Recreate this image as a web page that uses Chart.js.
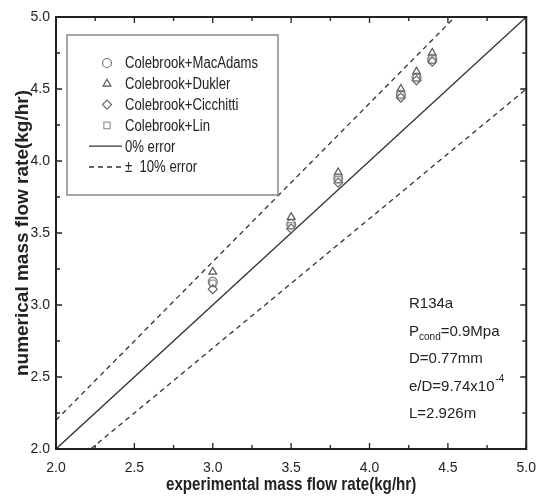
<!DOCTYPE html>
<html>
<head>
<meta charset="utf-8">
<script src="https://cdn.jsdelivr.net/npm/chart.js@4.4.0/dist/chart.umd.min.js"></script>
<style>
html,body{margin:0;padding:0;background:#fff}
</style>
</head>
<body>
<canvas id="chart" width="547" height="497"></canvas>
<script>

/* ---------------- DATA ---------------- */

const expFlow = [3.0,3.5,3.8,4.2,4.3,4.4]
const macAdams = [3.16,3.56,3.88,4.46,4.58,4.71]
const dukler = [3.23,3.61,3.92,4.50,4.62,4.75]
const cicchitti = [3.11,3.53,3.85,4.44,4.56,4.69]
const lin = [3.15,3.55,3.87,4.46,4.58,4.70]

const zeroX = [2,5]
const zeroY = [2,5]
const plusX = [2,4.545]
const plusY = [2.2,5]
const minusX = [2.222,5]
const minusY = [2,4.5]

const axisTicks = [2.0,2.5,3.0,3.5,4.0,4.5,5.0]

const xTitle = "experimental mass flow rate(kg/hr)"
const yTitle = "numerical mass flow rate(kg/hr)"
const noteLines = ["R134a","P|cond|=0.9Mpa","D=0.77mm","e/D=9.74x10^-4","L=2.926m"]

const FONT = "'Liberation Sans', Arial, sans-serif"
const INK = "#222"
const SQUEEZE = 0.82   // the source figure uses a condensed face

const pts = (xs,ys) => xs.map((x,i) => ({x:x,y:ys[i]}))

function markerSet(label,ys,style,color){
return {
label:label,
data:pts(expFlow,ys),
pointStyle:style,
pointRadius:4.5,
pointBorderWidth:1.2,
borderColor:color,
backgroundColor:"rgba(0,0,0,0)",
showLine:false
}
}

function lineSet(label,xs,ys,dash){
return {
label:label,
data:pts(xs,ys),
showLine:true,
pointRadius:0,
borderColor:"#333",
borderWidth:1.3,
borderDash:dash,
legendDash:dash
}
}

function narrowText(ctx,text,x,y){
ctx.save()
ctx.translate(x,y)
ctx.scale(SQUEEZE,1)
ctx.fillText(text,0,0)
ctx.restore()
}

/* ---------------- PLUGIN: frame, inward ticks, legend, note ---------------- */

const framePlugin = {
id:"frame",
afterDraw(chart){
const ctx = chart.ctx
const a = chart.chartArea
const xs = chart.scales.x
const ys = chart.scales.y

ctx.save()
ctx.strokeStyle = INK
ctx.lineWidth = 2
ctx.strokeRect(a.left,a.top,a.right-a.left,a.bottom-a.top)

ctx.lineWidth = 1.3
for(let i=0;i<axisTicks.length;i++){
const vals = [[axisTicks[i],6]]
if(i<axisTicks.length-1) vals.push([(axisTicks[i]+axisTicks[i+1])/2,4])
vals.forEach(([v,len])=>{
const px = xs.getPixelForValue(v)
const py = ys.getPixelForValue(v)
ctx.beginPath()
ctx.moveTo(px,a.bottom); ctx.lineTo(px,a.bottom-len)
ctx.moveTo(px,a.top); ctx.lineTo(px,a.top+len)
ctx.moveTo(a.left,py); ctx.lineTo(a.left+len,py)
ctx.moveTo(a.right,py); ctx.lineTo(a.right-len,py)
ctx.stroke()
})
}

/* x title, condensed */
ctx.fillStyle = INK
ctx.font = "bold 18.5px " + FONT
ctx.textBaseline = "middle"
ctx.textAlign = "center"
narrowText(ctx,xTitle,(a.left+a.right)/2,485)

/* legend box */
const bx = a.left+11, by = a.top+18, bw = 211, bh = 160
ctx.fillStyle = "#fff"
ctx.fillRect(bx,by,bw,bh)
ctx.strokeStyle = "#888"
ctx.lineWidth = 1.5
ctx.strokeRect(bx,by,bw,bh)

ctx.font = "16px " + FONT
ctx.textAlign = "left"
chart.data.datasets.filter(ds=>!ds.hideInLegend).forEach((ds,i)=>{
const y = by + 28 + i*20.8
if(ds.showLine){
ctx.strokeStyle = "#333"
ctx.lineWidth = 1.3
ctx.setLineDash(ds.legendDash)
ctx.beginPath()
ctx.moveTo(bx+22,y); ctx.lineTo(bx+55,y)
ctx.stroke()
ctx.setLineDash([])
}else{
ctx.strokeStyle = ds.borderColor
ctx.fillStyle = "rgba(0,0,0,0)"
ctx.lineWidth = 1.2
Chart.helpers.drawPoint(ctx,{pointStyle:ds.pointStyle,radius:4.5,borderWidth:1.2},bx+40,y)
}
ctx.fillStyle = INK
narrowText(ctx,ds.label,bx+58,y+1)
})

/* conditions note */
ctx.fillStyle = INK
let ny = a.top + 287
noteLines.forEach(line=>{
let x = a.left + 353
const parts = line.split(/(\|[^|]*\||\^.*$)/).filter(s=>s)
parts.forEach(p=>{
if(p[0]==="|"){
ctx.font = "10px " + FONT
const t = p.slice(1,-1)
ctx.fillText(t,x,ny+6)
x += ctx.measureText(t).width
}else if(p[0]==="^"){
ctx.font = "10px " + FONT
const t = p.slice(1)
ctx.fillText(t,x+1,ny-7)
x += ctx.measureText(t).width
}else{
ctx.font = "15px " + FONT
ctx.fillText(p,x,ny)
x += ctx.measureText(p).width
}
})
ny += 27.5
})

ctx.restore()
}
}

/* ---------------- CHART ---------------- */

new Chart(document.getElementById("chart"),{
type:"scatter",
data:{
datasets:[
markerSet("Colebrook+MacAdams",macAdams,"circle","#777"),
markerSet("Colebrook+Dukler",dukler,"triangle","#555"),
markerSet("Colebrook+Cicchitti",cicchitti,"rectRot","#666"),
markerSet("Colebrook+Lin",lin,"rect","#999"),
lineSet("0% error",zeroX,zeroY,[]),
lineSet("\u00b1  10% error",plusX,plusY,[5,4]),
Object.assign(lineSet("minus",minusX,minusY,[5,4]),{hideInLegend:true})
]
},
options:{
responsive:false,
animation:false,
devicePixelRatio:1,
layout:{padding:{top:17,right:19,left:0,bottom:0}},
plugins:{legend:{display:false},tooltip:{enabled:false}},
scales:{
x:{
type:"linear",min:2,max:5,
afterFit(s){s.height=48},
afterBuildTicks(s){s.ticks = axisTicks.map(v=>({value:v}))},
grid:{display:false,drawTicks:false},
border:{display:false},
ticks:{padding:11,color:INK,font:{family:FONT,size:14},callback:v=>v.toFixed(1)}
},
y:{
type:"linear",min:2,max:5,
afterFit(s){s.width=56},
afterBuildTicks(s){s.ticks = axisTicks.map(v=>({value:v}))},
grid:{display:false,drawTicks:false},
border:{display:false},
ticks:{padding:6,color:INK,font:{family:FONT,size:14},callback:v=>v.toFixed(1)},
title:{display:true,text:yTitle,color:INK,font:{family:FONT,size:19,weight:"bold"},padding:{top:11}}
}
}
},
plugins:[framePlugin]
})

</script>
</body>
</html>
